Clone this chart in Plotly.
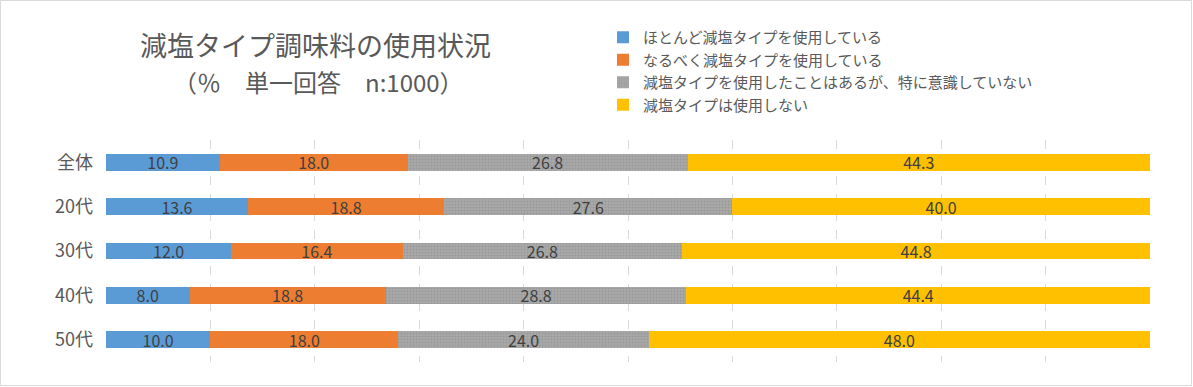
import plotly.graph_objects as go

categories = ["全体", "20代", "30代", "40代", "50代"]
series_names = [
    "ほとんど減塩タイプを使用している",
    "なるべく減塩タイプを使用している",
    "減塩タイプを使用したことはあるが、特に意識していない",
    "減塩タイプは使用しない",
]
s1 = [10.9, 13.6, 12.0, 8.0, 10.0]
s2 = [18.0, 18.8, 16.4, 18.8, 18.0]
s3 = [26.8, 27.6, 26.8, 28.8, 24.0]
s4 = [44.3, 40.0, 44.8, 44.4, 48.0]
colors = ["#5B9BD5", "#ED7D31", "#A5A5A5", "#FFC000"]

FONT = "Noto Sans CJK JP"
W, H = 1193, 387
ML, MR, MT, MB = 106, 43, 140, 25
PW, PH = W - ML - MR, H - MT - MB

fig = go.Figure()
for name, vals, col in zip(series_names, [s1, s2, s3, s4], colors):
    marker = dict(color=col, line=dict(width=0))
    if col == "#A5A5A5":
        marker["pattern"] = dict(shape=".", bgcolor="#A9A9A9", fgcolor="#989898",
                                 size=3, solidity=0.35, fillmode="replace")
    fig.add_trace(go.Bar(
        y=categories, x=vals, name=name, orientation="h",
        marker=marker,
        text=[f"{v:.1f}" for v in vals],
        textposition="inside", insidetextanchor="middle", textangle=0,
        constraintext="none",
        textfont=dict(family=FONT, size=16, color="#404040"),
        hoverinfo="x+y+name",
    ))

def px(x):
    return (x - ML) / PW

def py(y):
    return (H - MB - y) / PH

fig.update_layout(
    width=W, height=H,
    barmode="stack", bargap=0.62,
    margin=dict(l=ML, r=MR, t=MT, b=MB, autoexpand=False),
    paper_bgcolor="white", plot_bgcolor="white",
    font=dict(family=FONT, color="#595959"),
    legend=dict(
        x=px(603), y=py(21), xanchor="left", yanchor="top",
        font=dict(family=FONT, size=15, color="#595959"),
        traceorder="normal", itemwidth=30, bgcolor="rgba(0,0,0,0)",
        tracegroupgap=0,
    ),
    xaxis=dict(range=[0, 100], dtick=10, showgrid=True, gridcolor="#D9D9D9",
               griddash="dash", gridwidth=1, showticklabels=False, zeroline=False,
               showline=False, fixedrange=True),
    yaxis=dict(autorange="reversed", showgrid=False, ticks="",
               tickfont=dict(family=FONT, size=18, color="#595959"),
               showline=False, ticklabelstandoff=12),
    showlegend=True,
)

fig.add_annotation(x=px(315), y=py(45), xref="paper", yref="paper",
                   xanchor="center", yanchor="middle",
                   text="減塩タイプ調味料の使用状況", showarrow=False,
                   font=dict(family=FONT, size=27, color="#595959"))
fig.add_annotation(x=px(318), y=py(81), xref="paper", yref="paper",
                   xanchor="center", yanchor="middle",
                   text="（％　単一回答　n:1000）", showarrow=False,
                   font=dict(family=FONT, size=24, color="#595959"))

fig.add_shape(type="rect", xref="paper", yref="paper",
              x0=px(0.5), x1=px(W - 1.5), y0=py(H - 1.5), y1=py(0.5),
              line=dict(color="#D9D9D9", width=1), fillcolor="rgba(0,0,0,0)",
              layer="below")

fig.write_html("out.html", config={"displayModeBar": False},
               post_script="document.body.style.margin='0';")
